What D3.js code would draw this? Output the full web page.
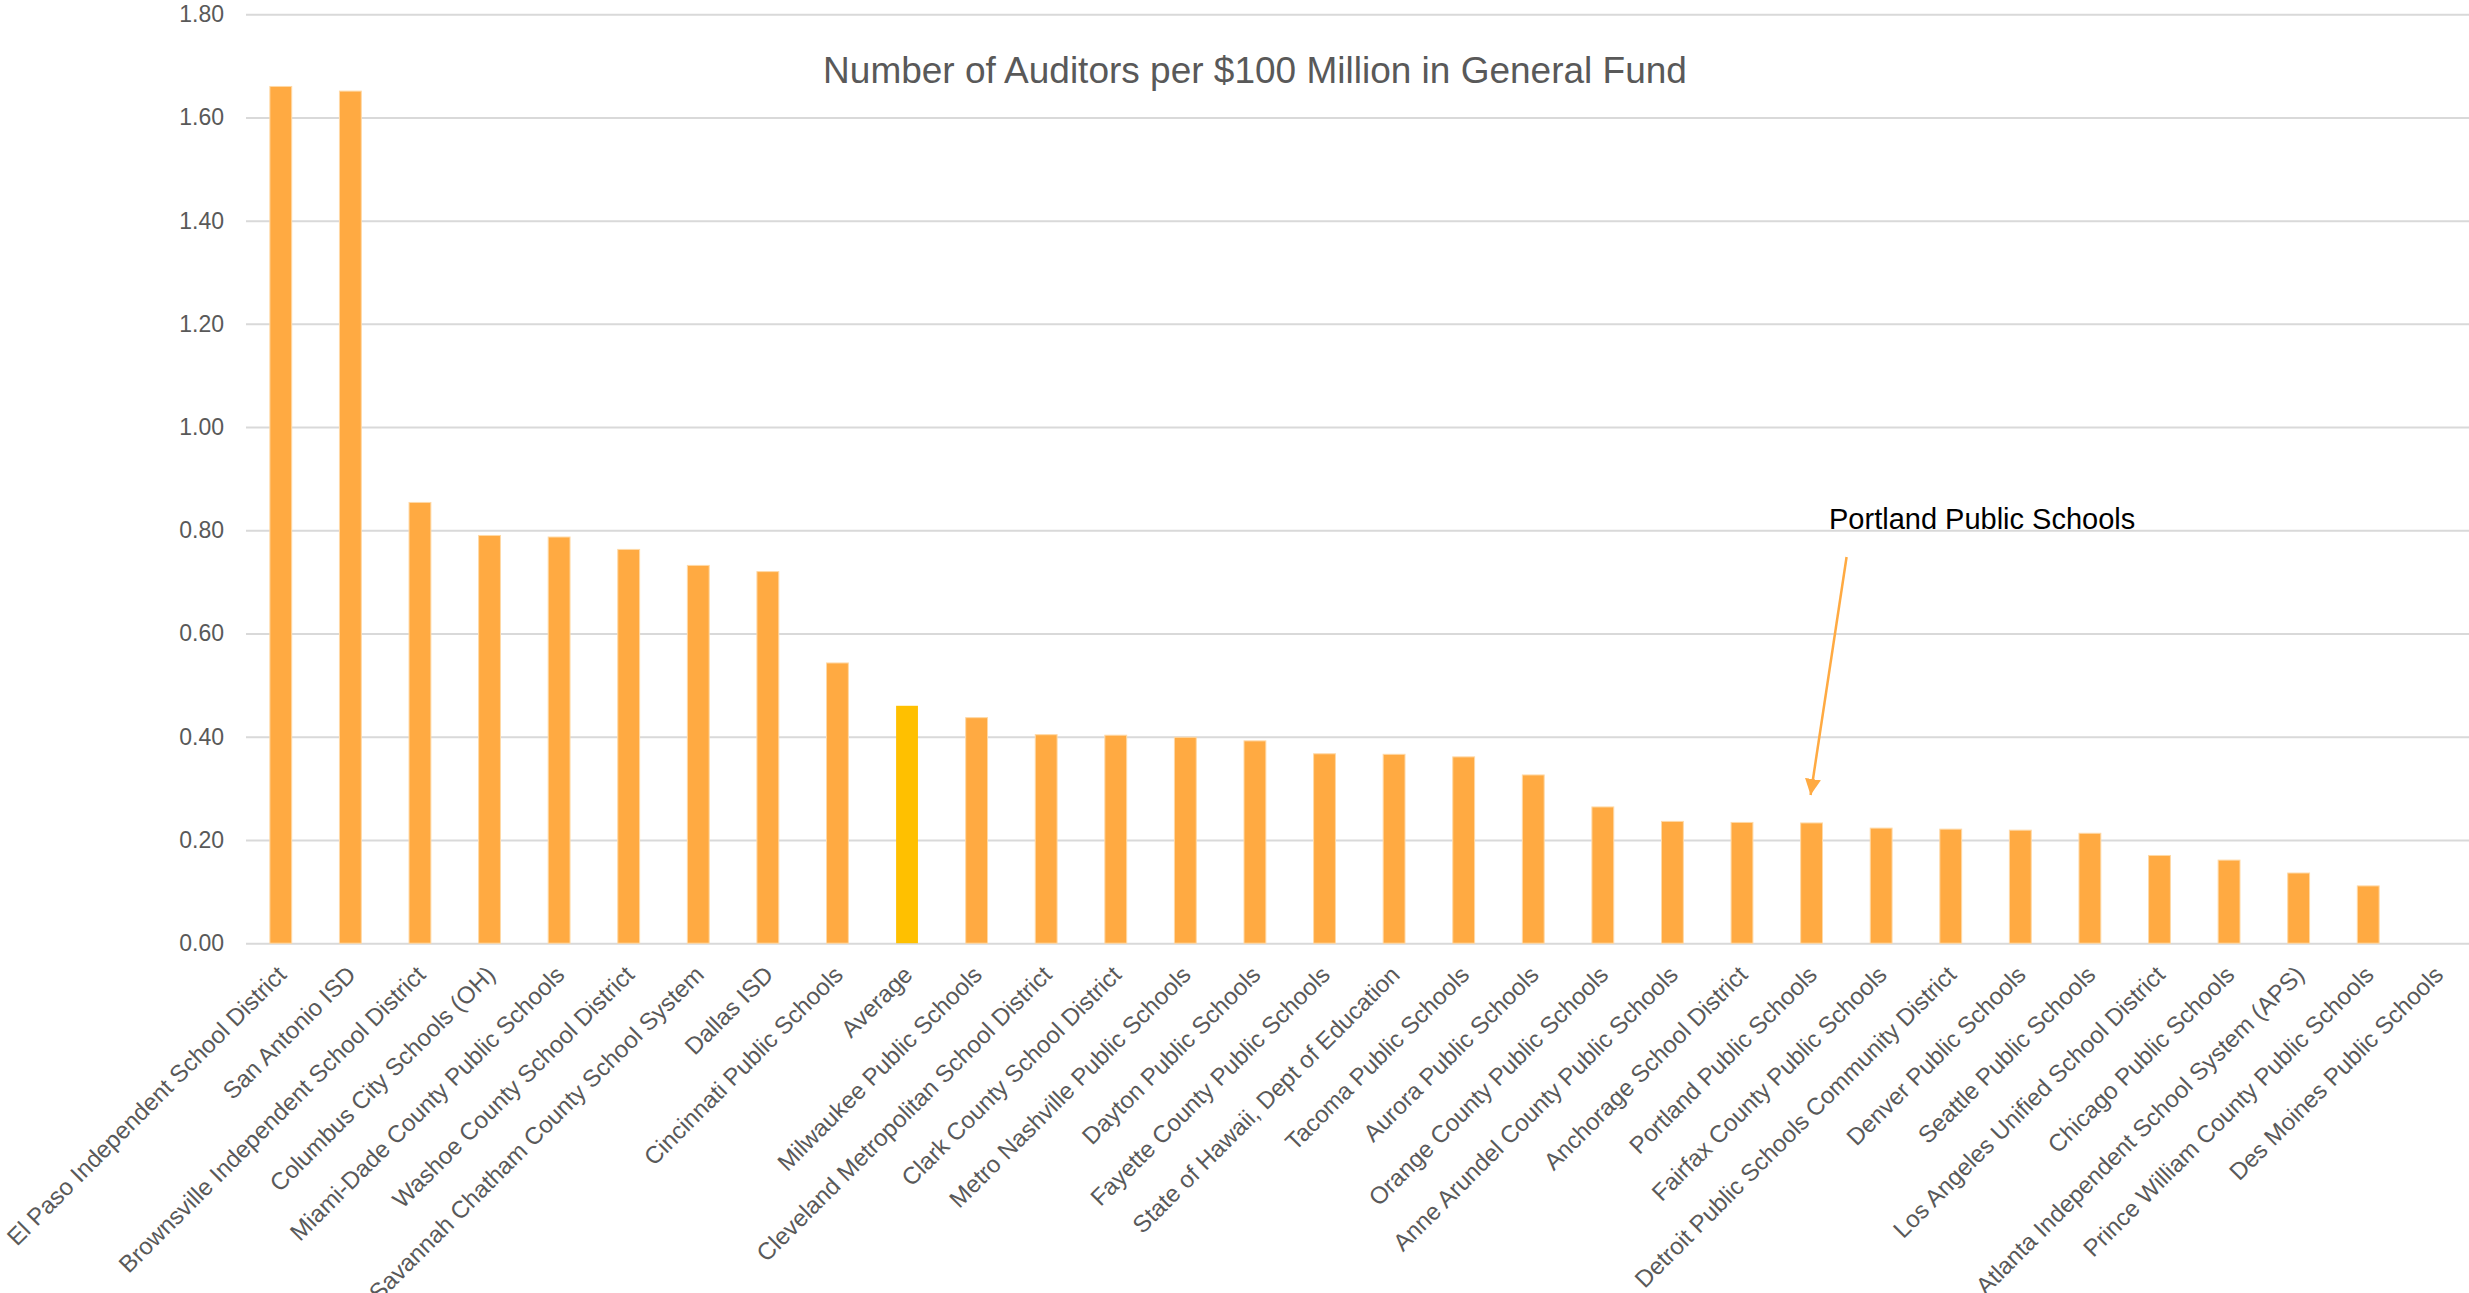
<!DOCTYPE html>
<html>
<head>
<meta charset="utf-8">
<script src="https://cdn.jsdelivr.net/npm/d3@7"></script>
<style>
	body { margin: 0; background: #fff; }
	svg text { font-family: "Liberation Sans", Arial, sans-serif; }
</style>
</head>
<body>
<svg id="chart" width="2469" height="1293"></svg>
<script>

// data
const districts = [
	"El Paso Independent School District", "San Antonio ISD", "Brownsville Independent School District",
	"Columbus City Schools (OH)", "Miami-Dade County Public Schools", "Washoe County School District",
	"Savannah Chatham County School System", "Dallas ISD", "Cincinnati Public Schools", "Average",
	"Milwaukee Public Schools", "Cleveland Metropolitan School District", "Clark County School District",
	"Metro Nashville Public Schools", "Dayton Public Schools", "Fayette County Public Schools",
	"State of Hawaii, Dept of Education", "Tacoma Public Schools", "Aurora Public Schools",
	"Orange County Public Schools", "Anne Arundel County Public Schools", "Anchorage School District",
	"Portland Public Schools", "Fairfax County Public Schools", "Detroit Public Schools Community District",
	"Denver Public Schools", "Seattle Public Schools", "Los Angeles Unified School District",
	"Chicago Public Schools", "Atlanta Independent School System (APS)",
	"Prince William County Public Schools", "Des Moines Public Schools"
];
const auditorsPer100M = [
	1.660, 1.651, 0.854,
	0.790, 0.787, 0.763,
	0.732, 0.720, 0.543, 0.460,
	0.437, 0.404, 0.403,
	0.399, 0.392, 0.367,
	0.366, 0.361, 0.326,
	0.264, 0.236, 0.234,
	0.233, 0.223, 0.221,
	0.219, 0.213, 0.170,
	0.161, 0.136,
	0.111, 0
];
const yTicks = [0, 0.2, 0.4, 0.6, 0.8, 1.0, 1.2, 1.4, 1.6, 1.8];
const chartTitle = "Number of Auditors per $100 Million in General Fund";
const calloutLabel = "Portland Public Schools";
const calloutDistrict = "Portland Public Schools";

const PLOT_LEFT = 246;
const PLOT_RIGHT = 2472.6;
const PLOT_TOP = 14.2;
const PLOT_BOTTOM = 943.2;
const BAR_COLOR = "#FFAA42";
const AVG_COLOR = "#FFC000";
const TEXT_GREY = "#595959";
const GRID_GREY = "#D9D9D9";

let svg = d3.select("svg#chart");

let x = d3.scaleBand()
	.domain(districts)
	.range([PLOT_LEFT, PLOT_RIGHT])
	.paddingInner(0.686)
	.paddingOuter(0.343)
	;

let y = d3.scaleLinear()
	.domain([0, 1.8])
	.range([PLOT_BOTTOM, PLOT_TOP])
	;

// gridlines + y labels
let yAxis = svg.append("g")
	.attr("transform", "translate(" + PLOT_LEFT + ",0)")
	.call(d3.axisLeft(y)
		.tickValues(yTicks)
		.tickFormat(d3.format(".2f"))
		.tickSize(-(PLOT_RIGHT - PLOT_LEFT))
		.tickPadding(22))
	;
yAxis.select(".domain").remove();
yAxis.selectAll(".tick line")
	.attr("stroke", GRID_GREY)
	.attr("stroke-width", 2)
	;
yAxis.selectAll(".tick text")
	.attr("fill", TEXT_GREY)
	.style("font-size", "23px")
	;

// bars
svg.append("g")
	.selectAll("rect")
	.data(districts)
	.join("rect")
	.attr("x", d => x(d))
	.attr("y", (d, i) => y(auditorsPer100M[i]))
	.attr("width", x.bandwidth())
	.attr("height", (d, i) => y(0) - y(auditorsPer100M[i]))
	.attr("fill", d => d === "Average" ? AVG_COLOR : BAR_COLOR)
	.attr("stroke", d => d === "Average" ? "none" : "#FFD9A6")
	.attr("stroke-width", 1)
	;

// rotated category labels
svg.append("g")
	.selectAll("text")
	.data(districts)
	.join("text")
	.text(d => d)
	.attr("transform", d => "translate(" + (x(d) + x.bandwidth() / 2 + 7) + "," + (PLOT_BOTTOM + 33) + ") rotate(-45)")
	.attr("text-anchor", "end")
	.attr("fill", TEXT_GREY)
	.style("font-size", "24px")
	;

// title
svg.append("text")
	.text(chartTitle)
	.attr("x", 1255)
	.attr("y", 83)
	.attr("text-anchor", "middle")
	.attr("fill", TEXT_GREY)
	.style("font-size", "37px")
	;

// callout arrow pointing at Portland
let tipX = x(calloutDistrict) + x.bandwidth() / 2 - 1;
let tipY = y(auditorsPer100M[districts.indexOf(calloutDistrict)]) - 28;

svg.append("defs")
	.append("marker")
	.attr("id", "arrowhead")
	.attr("viewBox", "0 0 10 10")
	.attr("refX", 10)
	.attr("refY", 5)
	.attr("markerUnits", "userSpaceOnUse")
	.attr("markerWidth", 16)
	.attr("markerHeight", 16)
	.attr("orient", "auto")
	.append("path")
	.attr("d", "M0,0 L10,5 L0,10 Z")
	.attr("fill", BAR_COLOR)
	;

svg.append("line")
	.attr("x1", tipX + 36)
	.attr("y1", 557)
	.attr("x2", tipX)
	.attr("y2", tipY)
	.attr("stroke", BAR_COLOR)
	.attr("stroke-width", 2.5)
	.attr("marker-end", "url(#arrowhead)")
	;

svg.append("text")
	.text(calloutLabel)
	.attr("x", 1829)
	.attr("y", 529)
	.attr("fill", "#000")
	.style("font-size", "29px")
	;

</script>
</body>
</html>
